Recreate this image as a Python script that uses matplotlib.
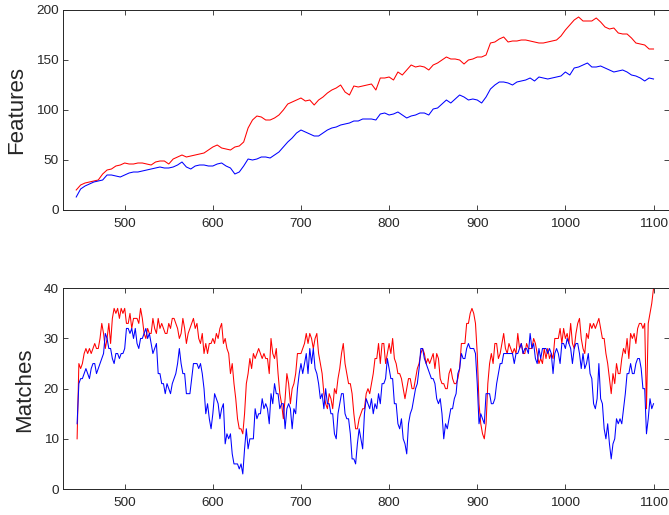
import numpy as np
import matplotlib.pyplot as plt

plt.rcParams['font.family'] = ['Liberation Sans', 'DejaVu Sans']

# Feature counts, sampled every 5 frames (445 .. 1100)
feat_frames = np.arange(445, 1101, 5)
feat_red = [
    20, 25, 27, 28, 29, 30, 36, 40, 41, 44,
    45, 47, 46, 46, 47, 47, 46, 45, 48, 49,
    49, 46, 51, 53, 55, 53, 54, 55, 56, 57,
    60, 63, 65, 62, 61, 60, 63, 64, 68, 82,
    90, 94, 93, 90, 90, 92, 95, 100, 106, 108,
    110, 112, 109, 110, 105, 110, 113, 117, 120, 122,
    125, 118, 115, 124, 123, 124, 125, 126, 120, 132,
    132, 133, 130, 138, 135, 140, 145, 143, 144, 143,
    140, 145, 147, 150, 153, 151, 151, 150, 146, 150,
    151, 153, 153, 155, 167, 168, 171, 173, 168, 169,
    169, 170, 170, 169, 168, 167, 167, 168, 169, 170,
    174, 180, 185, 190, 193, 189, 189, 189, 192, 188,
    183, 181, 182, 177, 176, 176, 172, 167, 166, 165,
    161, 161,
]
feat_blue = [
    13, 21, 24, 26, 28, 29, 30, 35, 35, 34,
    33, 35, 37, 38, 38, 39, 40, 41, 42, 43,
    42, 42, 43, 45, 48, 43, 41, 44, 45, 45,
    44, 44, 46, 47, 44, 42, 36, 38, 44, 51,
    50, 51, 53, 53, 52, 55, 58, 63, 68, 72,
    77, 80, 78, 76, 74, 74, 77, 80, 82, 83,
    85, 86, 87, 89, 89, 91, 91, 91, 90, 96,
    97, 95, 96, 98, 95, 92, 94, 95, 97, 97,
    95, 101, 102, 106, 110, 107, 111, 115, 113, 110,
    111, 110, 107, 113, 121, 125, 128, 128, 127, 125,
    128, 129, 130, 132, 129, 133, 132, 131, 132, 133,
    134, 138, 135, 142, 143, 145, 147, 143, 143, 144,
    142, 140, 138, 139, 140, 138, 135, 134, 132, 129,
    132, 131,
]

# Match counts, sampled every 2 frames (446 .. 1100)
match_frames = np.arange(446, 1101, 2)
match_red = [
    10, 25, 24, 25, 27, 28, 27, 28, 27, 28,
    29, 28, 28, 30, 33, 31, 28, 30, 33, 29,
    34, 36, 35, 36, 34, 36, 35, 36, 33, 33,
    35, 32, 34, 34, 34, 33, 36, 34, 31, 30,
    32, 31, 31, 34, 32, 31, 34, 32, 33, 32,
    31, 31, 33, 32, 34, 34, 33, 32, 30, 31,
    34, 32, 29, 31, 32, 33, 34, 32, 33, 30,
    29, 31, 27, 29, 27, 29, 29, 30, 29, 31,
    30, 32, 33, 29, 30, 28, 27, 23, 25, 21,
    18, 14, 12, 12, 11, 15, 21, 23, 26, 24,
    27, 26, 27, 28, 27, 26, 27, 26, 26, 23,
    30, 27, 26, 28, 23, 19, 17, 14, 18, 23,
    21, 17, 20, 21, 23, 27, 27, 27, 28, 29,
    31, 29, 31, 30, 28, 30, 31, 27, 25, 23,
    19, 17, 16, 19, 18, 16, 20, 19, 22, 24,
    27, 29, 25, 23, 21, 21, 19, 15, 12, 12,
    14, 15, 16, 16, 19, 20, 19, 21, 23, 26,
    26, 29, 25, 29, 29, 25, 27, 29, 27, 30,
    26, 25, 23, 23, 22, 20, 18, 20, 22, 22,
    20, 20, 22, 24, 25, 27, 28, 27, 25, 26,
    25, 26, 27, 24, 27, 26, 22, 21, 21, 20,
    20, 23, 24, 22, 21, 21, 22, 24, 29, 29,
    29, 33, 33, 35, 36, 35, 33, 27, 17, 13,
    11, 10, 13, 21, 25, 27, 25, 29, 29, 26,
    27, 29, 31, 28, 27, 29, 28, 27, 28, 27,
    31, 28, 29, 27, 27, 29, 28, 28, 28, 30,
    29, 27, 25, 26, 25, 28, 26, 28, 26, 27,
    26, 30, 30, 30, 32, 29, 32, 30, 31, 29,
    33, 29, 28, 31, 33, 34, 30, 28, 27, 31,
    30, 33, 32, 33, 32, 33, 34, 32, 30, 30,
    27, 25, 22, 19, 23, 21, 25, 23, 23, 26,
    28, 27, 30, 26, 31, 30, 31, 29, 32, 33,
    33, 32, 33, 16, 33, 35, 37, 40,
]
match_blue = [
    13, 21, 22, 22, 23, 24, 23, 22, 24, 25,
    25, 23, 24, 25, 26, 27, 31, 30, 28, 28,
    26, 25, 27, 27, 26, 27, 27, 28, 32, 32,
    31, 32, 30, 32, 29, 28, 30, 30, 31, 32,
    30, 31, 29, 27, 28, 29, 23, 23, 21, 21,
    19, 21, 20, 19, 21, 22, 23, 25, 28, 25,
    23, 23, 19, 19, 19, 22, 25, 25, 25, 24,
    25, 23, 20, 15, 17, 14, 12, 15, 19, 18,
    17, 14, 16, 17, 9, 11, 10, 11, 7, 5,
    5, 5, 4, 5, 3, 8, 12, 8, 10, 10,
    10, 16, 14, 15, 15, 18, 16, 17, 16, 13,
    19, 17, 21, 19, 19, 16, 17, 17, 12, 16,
    17, 16, 12, 16, 15, 20, 23, 25, 23, 25,
    27, 23, 28, 25, 28, 24, 23, 21, 18, 19,
    16, 20, 17, 17, 15, 15, 11, 10, 15, 17,
    19, 19, 15, 14, 14, 11, 6, 6, 5, 9,
    12, 10, 8, 15, 18, 17, 16, 18, 15, 17,
    16, 19, 17, 21, 21, 22, 26, 24, 22, 22,
    17, 17, 13, 12, 14, 10, 9, 7, 13, 15,
    16, 18, 20, 21, 24, 28, 28, 26, 25, 24,
    23, 22, 22, 21, 18, 17, 18, 15, 10, 13,
    12, 14, 16, 16, 18, 19, 23, 24, 27, 26,
    26, 28, 29, 28, 28, 28, 27, 21, 13, 15,
    14, 13, 19, 19, 19, 17, 17, 18, 21, 23,
    25, 25, 27, 27, 27, 27, 27, 27, 25, 27,
    27, 28, 29, 27, 28, 28, 27, 31, 28, 29,
    26, 25, 28, 26, 28, 28, 28, 27, 28, 27,
    23, 27, 28, 27, 25, 29, 29, 28, 30, 29,
    28, 25, 28, 29, 29, 27, 24, 27, 24, 25,
    27, 23, 22, 17, 16, 18, 25, 18, 17, 12,
    10, 13, 9, 6, 9, 10, 14, 13, 14, 13,
    16, 19, 23, 23, 25, 23, 23, 25, 26, 26,
    24, 20, 20, 11, 14, 18, 16, 17,
]

axis_color = '#262626'

fig = plt.figure(figsize=(6.69, 5.15), dpi=100)
W, H = 669, 515
ax1 = fig.add_axes([63 / W, (H - 210) / H, 605.5 / W, 200 / H])
ax2 = fig.add_axes([63 / W, (H - 489) / H, 605.5 / W, 200.7 / H])

ax1.plot(feat_frames, feat_red, color='red', lw=0.75)
ax1.plot(feat_frames, feat_blue, color='blue', lw=0.75)
ax2.plot(match_frames, match_red, color='red', lw=0.75)
ax2.plot(match_frames, match_blue, color='blue', lw=0.75)

ax1.set_ylim(0, 200)
ax1.set_yticks([0, 50, 100, 150, 200])
ax2.set_ylim(0, 40)
ax2.set_yticks([0, 10, 20, 30, 40])

for ax in (ax1, ax2):
    ax.set_xlim(430, 1117)
    ax.set_xticks([500, 600, 700, 800, 900, 1000, 1100])
    ax.tick_params(direction='in', top=True, right=True, length=3.5,
                   width=0.6, color=axis_color, labelcolor=axis_color,
                   labelsize=9.7)
    ax.tick_params(axis='x', pad=6)
    ax.tick_params(axis='y', pad=3)
    for sp in ax.spines.values():
        sp.set_color(axis_color)
        sp.set_linewidth(0.7)

fig.text(16.5 / W, 1 - 110 / H, 'Features', rotation=90, ha='center',
         va='center', fontsize=16, color=axis_color)
fig.text(24.5 / W, 1 - 390 / H, 'Matches', rotation=90, ha='center',
         va='center', fontsize=16, color=axis_color)

fig.savefig('out.png', dpi=100)
